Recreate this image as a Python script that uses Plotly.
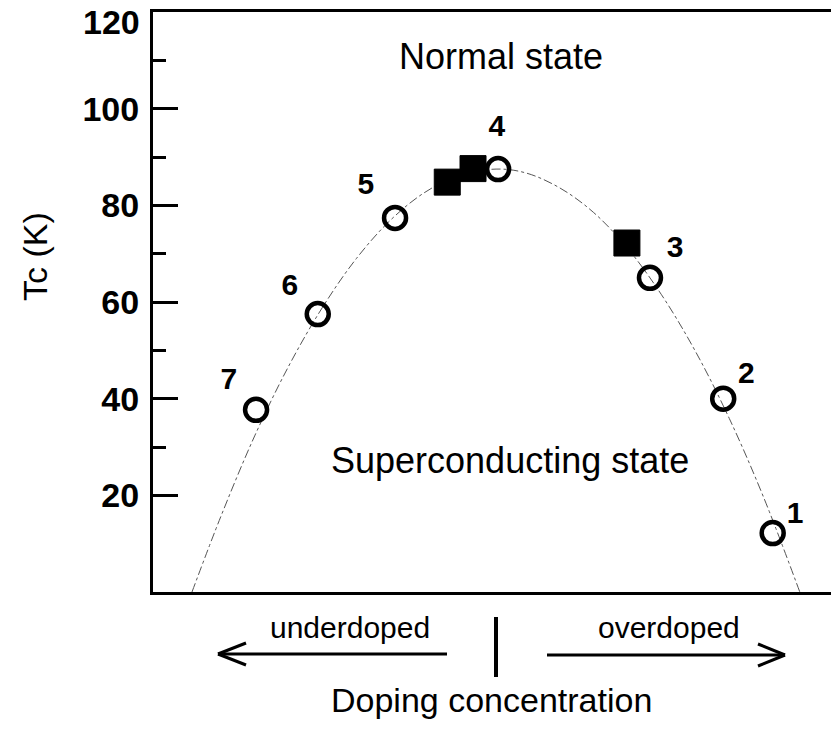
import plotly.graph_objects as go

# --- data (doping in arbitrary units, Tc in K) ---
circle_x = [91.4, 84.1, 73.3, 50.9, 35.7, 24.3, 15.2]
circle_y = [12.2, 40.0, 65.0, 87.5, 77.4, 57.5, 37.7]
circle_labels = ["1", "2", "3", "4", "5", "6", "7"]
label_x = [94.7, 87.5, 77.0, 50.7, 31.4, 20.2, 11.2]
label_y = [15.9, 44.7, 70.8, 96.0, 84.0, 63.1, 43.5]

square_x = [43.4, 47.2, 69.9]
square_y = [84.8, 87.6, 72.2]

curve_x = [5.75, 10, 15, 20, 25, 30, 35, 40, 45, 50.6, 55, 60, 65, 70, 75, 80, 85, 90, 95.4]
curve_y = [0, 15.6, 32.3, 46.7, 58.9, 69.0, 76.9, 82.6, 86.1, 87.5, 86.7, 83.6, 78.5, 71.1, 61.5, 49.8, 35.9, 19.8, 0]

y_ticks = [20, 40, 60, 80, 100, 120]
y_ticktext = ["20", "40", "60", "80", "100", ""]  # top label placed separately (it sits just below the axis end)
y_top_label = "120"
y_minor = [30, 50, 70, 90, 110]

W, H = 831, 731
L, T, B, R = 153, 12, 139, 0
FONT = "Arial, Liberation Sans, sans-serif"

fig = go.Figure()
fig.add_trace(go.Scatter(x=curve_x, y=curve_y, mode="lines", line=dict(color="#555", width=1, dash="dashdot", shape="spline"), hoverinfo="skip"))
fig.add_trace(go.Scatter(x=square_x, y=square_y, mode="markers", marker=dict(symbol="square", size=26, color="black", line=dict(color="black", width=1))))
fig.add_trace(go.Scatter(x=circle_x, y=circle_y, mode="markers", marker=dict(symbol="circle-open", size=22, color="black", line=dict(color="black", width=4.5))))
fig.add_trace(go.Scatter(x=label_x, y=label_y, mode="text", text=circle_labels, textfont=dict(family=FONT, size=30, color="black", weight="bold")))

pw = W - L - R
ph = H - T - B

def px2paper(px, py):
    return (px - L) / pw, (H - B - py) / ph

annotations = []
def txt(s, px, py, size, angle=0, weight="normal", xanchor="center"):
    x, y = px2paper(px, py)
    annotations.append(dict(text=s, x=x, y=y, xref="paper", yref="paper", showarrow=False,
                            font=dict(family=FONT, size=size, color="black", weight=weight), textangle=angle,
                            xanchor=xanchor, yanchor="middle"))

txt("Normal state", 501, 57, 36)
txt("Superconducting state", 510, 460, 36)
txt("underdoped", 350, 627, 30)
txt("overdoped", 669, 627, 30)
txt("Doping concentration", 491, 700, 34)
txt("Tc (K)", 35, 256, 34, -90)
txt(y_top_label, 142, 22, 34, weight="bold", xanchor="right")

shapes = []
def seg(p1, p2, w=3):
    x0, y0 = px2paper(*p1)
    x1, y1 = px2paper(*p2)
    shapes.append(dict(type="line", xref="paper", yref="paper", x0=x0, y0=y0, x1=x1, y1=y1,
                       line=dict(color="black", width=w)))

# left arrow
seg((447, 654), (218, 654))
seg((218, 654), (246, 643))
seg((218, 654), (246, 665))
# right arrow
seg((547, 655), (785, 655))
seg((785, 655), (758, 644))
seg((785, 655), (758, 666))
# divider
seg((496, 617), (496, 677), 4)

fig.update_layout(
    width=W, height=H, margin=dict(l=L, r=R, t=T, b=B, autoexpand=False),
    paper_bgcolor="white", plot_bgcolor="white", showlegend=False,
    annotations=annotations, shapes=shapes,
    xaxis=dict(range=[0, 100], showgrid=False, zeroline=False, showticklabels=False, ticks="",
               showline=True, mirror=True, linecolor="black", linewidth=3, automargin=False),
    yaxis=dict(range=[0, 120], showgrid=False, zeroline=False, showline=True, linecolor="black", linewidth=3,
               tickvals=y_ticks, ticktext=y_ticktext, ticks="inside", ticklen=25, tickwidth=3,
               tickcolor="black", ticklabelstandoff=4, automargin=False,
               tickfont=dict(family=FONT, size=34, color="black", weight="bold"),
               minor=dict(tickvals=y_minor, ticks="inside", ticklen=13, tickwidth=3, tickcolor="black")),
)
fig.write_html("out.html")
